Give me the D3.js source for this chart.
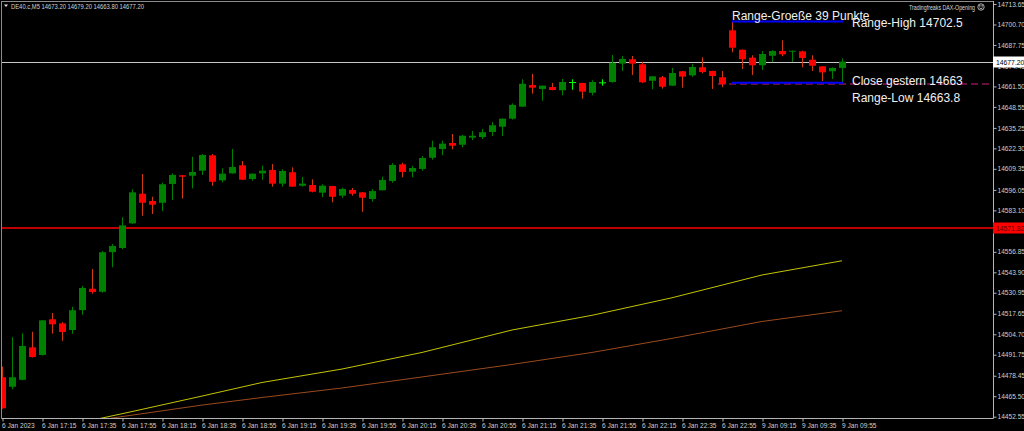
<!DOCTYPE html>
<html>
<head>
<meta charset="utf-8">
<script src="https://cdn.jsdelivr.net/npm/d3@7"></script>
<style>
  html, body { margin: 0; padding: 0; background: #000; }
  svg { display: block; }
  text { font-family: "Liberation Sans", Arial, sans-serif; }
</style>
</head>
<body>
<svg id="chart" width="1024" height="431"></svg>
<script>
// ---------- data (DE40.c, M5) ----------
const opens  = [14477.5,14471.5,14475.9,14496.4,14491.6,14514.2,14511.6,14507.4,14520.0,14533.5,
                14531.6,14556.7,14559.3,14574.9,14593.6,14589.0,14587.9,14599.8,14605.3,14605.0,
                14608.2,14617.9,14602.1,14606.5,14611.6,14602.9,14606.5,14608.6,14600.0,14607.2,
                14598.7,14599.1,14594.3,14598.5,14592.4,14596.0,14594.5,14590.3,14595.8,14601.7,
                14612.2,14607.6,14609.3,14616.4,14621.9,14625.7,14624.6,14629.1,14629.5,14632.7,
                14636.0,14641.1,14648.7,14662.4,14659.9,14661.1,14659.1,14664.3,14663.7,14657.5,
                14664.1,14664.3,14675.9,14678.7,14675.5,14665.1,14667.3,14662.0,14671.1,14668.5,
                14673.6,14671.3,14667.3,14697.0,14684.7,14679.7,14674.9,14680.9,14683.9,14683.5,
                14683.7,14678.4,14674.2,14671.1,14673.2];
const highs  = [14484.2,14502.8,14505.3,14506.3,14513.8,14518.1,14512.3,14522.1,14535.2,14546.0,
                14557.4,14561.8,14578.7,14596.4,14606.1,14591.7,14600.6,14606.5,14605.4,14617.0,
                14618.7,14618.7,14609.7,14621.9,14614.3,14606.4,14611.3,14612.4,14609.1,14610.3,
                14604.2,14602.7,14599.6,14598.6,14597.4,14597.2,14594.6,14596.6,14604.4,14612.9,
                14613.2,14611.2,14617.5,14627.2,14627.2,14631.4,14630.8,14633.3,14634.6,14639.0,
                14641.2,14650.8,14666.0,14669.4,14662.0,14663.7,14666.2,14666.0,14663.8,14665.4,
                14666.0,14681.4,14680.8,14680.8,14677.1,14667.9,14668.1,14673.2,14671.2,14675.7,
                14679.9,14671.4,14671.3,14702.5,14684.9,14681.2,14683.9,14684.5,14690.7,14684.2,
                14684.1,14681.2,14674.3,14673.6,14679.2];
const lows   = [14457.6,14469.9,14475.6,14490.0,14491.3,14505.1,14500.6,14505.1,14517.1,14530.4,
                14531.0,14547.1,14558.5,14574.6,14579.7,14580.8,14582.7,14589.6,14590.5,14597.0,
                14605.5,14598.7,14600.8,14606.3,14602.3,14601.9,14602.5,14598.1,14598.1,14598.0,
                14598.1,14594.5,14591.4,14588.2,14591.1,14592.4,14582.2,14588.6,14595.7,14600.6,
                14604.0,14604.0,14608.2,14615.1,14617.9,14621.7,14623.0,14627.6,14628.2,14630.1,
                14630.1,14640.5,14648.6,14656.9,14652.5,14659.1,14655.9,14659.4,14653.7,14655.9,
                14662.0,14663.9,14671.3,14668.7,14663.7,14659.7,14660.1,14661.9,14660.7,14667.6,
                14669.8,14659.9,14661.0,14683.1,14672.5,14668.7,14671.9,14676.8,14680.6,14677.1,
                14673.6,14671.3,14664.9,14666.2,14663.8];
const closes = [14457.9,14477.5,14497.3,14490.3,14513.5,14511.0,14506.1,14519.9,14534.0,14531.4,
                14556.6,14560.5,14573.6,14594.5,14587.9,14586.7,14599.6,14605.5,14604.4,14607.4,
                14618.1,14601.2,14606.3,14610.5,14602.5,14606.3,14608.2,14600.0,14608.0,14598.1,
                14600.0,14594.9,14598.7,14591.7,14596.6,14593.6,14591.1,14595.3,14602.3,14611.8,
                14607.4,14609.9,14616.2,14623.0,14625.3,14624.0,14630.3,14630.3,14632.5,14636.9,
                14641.1,14649.8,14663.2,14660.7,14662.0,14659.2,14664.3,14664.3,14658.2,14664.3,
                14664.1,14676.5,14678.9,14675.9,14664.1,14667.9,14661.3,14670.0,14667.7,14673.8,
                14670.6,14668.1,14663.0,14686.0,14678.7,14674.9,14682.0,14683.9,14681.8,14684.1,
                14679.5,14674.6,14670.4,14673.2,14677.2];

// moving averages, read at a few candle indices
const maYellowIdx = [6, 10, 13, 20, 26, 34, 42, 51, 59, 67, 76, 84];
const maYellowVal = [14446.5,14451.7,14455.8,14465.6,14474.2,14482.7,14493.2,14507.4,14516.7,14527.8,14542.2,14551.2];
const maBrownIdx  = [6, 11, 20, 26, 34, 42, 51, 59, 67, 76, 84];
const maBrownVal  = [14445.0,14451.7,14459.9,14464.7,14470.7,14477.7,14485.6,14493.2,14502.1,14512.8,14519.6];

// axis tick labels
const priceTicks = [14713.65,14700.70,14687.75,14674.45,14661.50,14648.55,14635.25,14622.30,14609.35,
                    14596.05,14583.10,14570.15,14556.85,14543.90,14530.95,14517.65,14504.70,14491.75,
                    14478.45,14465.50,14452.55];
const timeLabels = ["6 Jan 2023","6 Jan 17:15","6 Jan 17:35","6 Jan 17:55","6 Jan 18:15","6 Jan 18:35",
                    "6 Jan 18:55","6 Jan 19:15","6 Jan 19:35","6 Jan 19:55","6 Jan 20:15","6 Jan 20:35",
                    "6 Jan 20:55","6 Jan 21:15","6 Jan 21:35","6 Jan 21:55","6 Jan 22:15","6 Jan 22:35",
                    "6 Jan 22:55","9 Jan 09:15","9 Jan 09:35","9 Jan 09:55"];
const timeTickIdx = d3.range(0, 85, 4);

// levels
const lastPrice = 14677.20;
const redLevel = 14571.82;
const closeYesterday = 14663;
const rangeHigh = 14702.5;
const rangeLow = 14663.8;
const rangeStartIdx = 73, rangeEndIdx = 84, prevCloseIdx = 72;
const header = "DE40.c,M5  14673.20 14679.20 14663.80 14677.20";

// ---------- layout ----------
const svg = d3.select("#chart");
const W = 1024, H = 431;
const plotL = 1, plotR = 993, plotT = 1, plotB = 418;

const x = d3.scaleLinear().domain([0, 84]).range([2, 842]);
const y = d3.scaleLinear().domain([14452.55, 14713.65]).range([416.7, 4]);

svg.append("rect").attr("width", W).attr("height", H).attr("fill", "#000");

svg.append("defs").append("clipPath").attr("id", "plotclip")
  .append("rect").attr("x", plotL + 0.5).attr("y", plotT + 0.5)
  .attr("width", plotR - plotL - 0.5).attr("height", plotB - plotT - 0.5);

const plot = svg.append("g").attr("clip-path", "url(#plotclip)");

// moving averages
const lineGen = d3.line().x(d => x(d[0])).y(d => y(d[1]));
plot.append("path").datum(maBrownIdx.map((k, i) => [k, maBrownVal[i]]))
  .attr("d", lineGen).attr("fill", "none").attr("stroke", "#9a4a1c").attr("stroke-width", 1);
plot.append("path").datum(maYellowIdx.map((k, i) => [k, maYellowVal[i]]))
  .attr("d", lineGen).attr("fill", "none").attr("stroke", "#c4c400").attr("stroke-width", 1);

// horizontal levels
plot.append("line").attr("x1", plotL).attr("x2", plotR)
  .attr("y1", Math.round(y(redLevel))).attr("y2", Math.round(y(redLevel)))
  .attr("stroke", "#c00000").attr("stroke-width", 2);
plot.append("line").attr("x1", plotL).attr("x2", plotR)
  .attr("y1", Math.round(y(lastPrice)) + 0.5).attr("y2", Math.round(y(lastPrice)) + 0.5)
  .attr("stroke", "#c8c8c8").attr("stroke-width", 1);
plot.append("line").attr("x1", x(prevCloseIdx) - 4).attr("x2", plotR)
  .attr("y1", y(closeYesterday)).attr("y2", y(closeYesterday))
  .attr("stroke", "#66103f").attr("stroke-width", 2).attr("stroke-dasharray", "7,4");

// candles
const candles = opens.map((o, i) => ({ i, o, h: highs[i], l: lows[i], c: closes[i] }));
const cg = plot.append("g");
candles.forEach(d => {
  const cx = Math.round(x(d.i));
  const up = d.c > d.o, doji = d.c === d.o;
  const wickCol = doji ? "#00ff00" : (up ? "#008000" : "#d03a10");
  const bodyCol = doji ? "#00ff00" : (up ? "#008000" : "#ff0000");
  cg.append("line").attr("x1", cx + 0.5).attr("x2", cx + 0.5)
    .attr("y1", y(d.h)).attr("y2", y(d.l)).attr("stroke", wickCol).attr("stroke-width", 1);
  const top = y(Math.max(d.o, d.c)), bot = y(Math.min(d.o, d.c));
  cg.append("rect").attr("x", cx - 3).attr("width", 7)
    .attr("y", top).attr("height", Math.max(1, bot - top)).attr("fill", bodyCol);
});

// range lines
[rangeHigh, rangeLow].forEach(v => {
  plot.append("line").attr("x1", x(rangeStartIdx)).attr("x2", x(rangeEndIdx) + 1)
    .attr("y1", y(v)).attr("y2", y(v)).attr("stroke", "#0000ff").attr("stroke-width", 2);
});

// annotation texts
const ann = svg.append("g").attr("fill", "#f0f0f0").attr("font-size", 12);
ann.append("text").attr("x", x(rangeStartIdx)).attr("y", 19.5).text("Range-Groeße 39 Punkte");
ann.append("text").attr("x", x(rangeEndIdx) + 10).attr("y", 26.5).text("Range-High " + rangeHigh);
ann.append("text").attr("x", x(rangeEndIdx) + 10).attr("y", 85).text("Close gestern " + closeYesterday);
ann.append("text").attr("x", x(rangeEndIdx) + 10).attr("y", 102).text("Range-Low " + rangeLow);

// frame
const axisCol = "#b4b4b4";
svg.append("line").attr("x1", plotL + 0.5).attr("x2", plotL + 0.5).attr("y1", plotT).attr("y2", plotB + 0.5).attr("stroke", "#8c8c8c");
svg.append("line").attr("x1", plotL).attr("x2", plotR).attr("y1", plotT + 0.5).attr("y2", plotT + 0.5).attr("stroke", "#8c8c8c");

// right price axis
const yAxis = d3.axisRight(y).tickValues(priceTicks).tickSize(3).tickPadding(1)
  .tickFormat(d => d.toFixed(2));
const ya = svg.append("g").attr("transform", `translate(${plotR + 0.5},0)`).call(yAxis);
ya.select(".domain").attr("stroke", axisCol).attr("d", `M0,${plotT}V${plotB + 0.5}`);
ya.selectAll(".tick line").attr("stroke", axisCol);
ya.selectAll(".tick text").attr("fill", "#cfcfcf").attr("font-size", 6.6)
  .attr("font-family", "Liberation Sans, Arial, sans-serif");

// bottom time axis
const xAxis = d3.axisBottom(x).tickValues(timeTickIdx).tickSize(3)
  .tickFormat((d, i) => timeLabels[i]);
const xa = svg.append("g").attr("transform", `translate(0.5,${plotB + 0.5})`).call(xAxis);
xa.select(".domain").attr("stroke", axisCol).attr("d", `M${plotL},0H${plotR}`);
xa.selectAll(".tick line").attr("stroke", axisCol);
xa.selectAll(".tick text").attr("fill", "#cfcfcf").attr("font-size", 6.6)
  .attr("font-family", "Liberation Sans, Arial, sans-serif")
  .attr("text-anchor", "start").attr("x", -1).attr("y", 5).attr("dy", "0.71em");

// price label boxes
function priceBox(v, fill, txtCol) {
  const yy = Math.round(y(v));
  const g = svg.append("g");
  g.append("rect").attr("x", plotR).attr("y", yy - 5.5).attr("width", W - plotR).attr("height", 11).attr("fill", fill);
  g.append("text").attr("x", plotR + 3).attr("y", yy + 2.5).attr("font-size", 6.8)
    .attr("fill", txtCol).text(v.toFixed(2));
}
priceBox(lastPrice, "#ffffff", "#000000");
priceBox(redLevel, "#ff0000", "#600000");

// header
svg.append("path").attr("d", "M4,4.5L8,4.5L6,7z").attr("fill", "#e0e0e0");
svg.append("text").attr("x", 11).attr("y", 9).attr("font-size", 7)
  .attr("fill", "#d0d0d0").attr("textLength", 133).attr("lengthAdjust", "spacingAndGlyphs")
  .text(header);

// watermark with smiley icon
svg.append("text").attr("x", 909).attr("y", 9.5).attr("font-size", 6.6)
  .attr("fill", "#d8d8d8").attr("textLength", 66).attr("lengthAdjust", "spacingAndGlyphs")
  .text("Tradingfreaks DAX-Opening");
const smile = svg.append("g").attr("stroke", "#d8d8d8").attr("fill", "none").attr("stroke-width", 0.8);
smile.append("circle").attr("cx", 981).attr("cy", 7).attr("r", 3.2);
smile.append("path").attr("d", "M979.4,7.8Q981,9.6 982.6,7.8");
smile.append("circle").attr("cx", 979.9).attr("cy", 5.9).attr("r", 0.35).attr("fill", "#d8d8d8");
smile.append("circle").attr("cx", 982.1).attr("cy", 5.9).attr("r", 0.35).attr("fill", "#d8d8d8");
</script>
</body>
</html>
